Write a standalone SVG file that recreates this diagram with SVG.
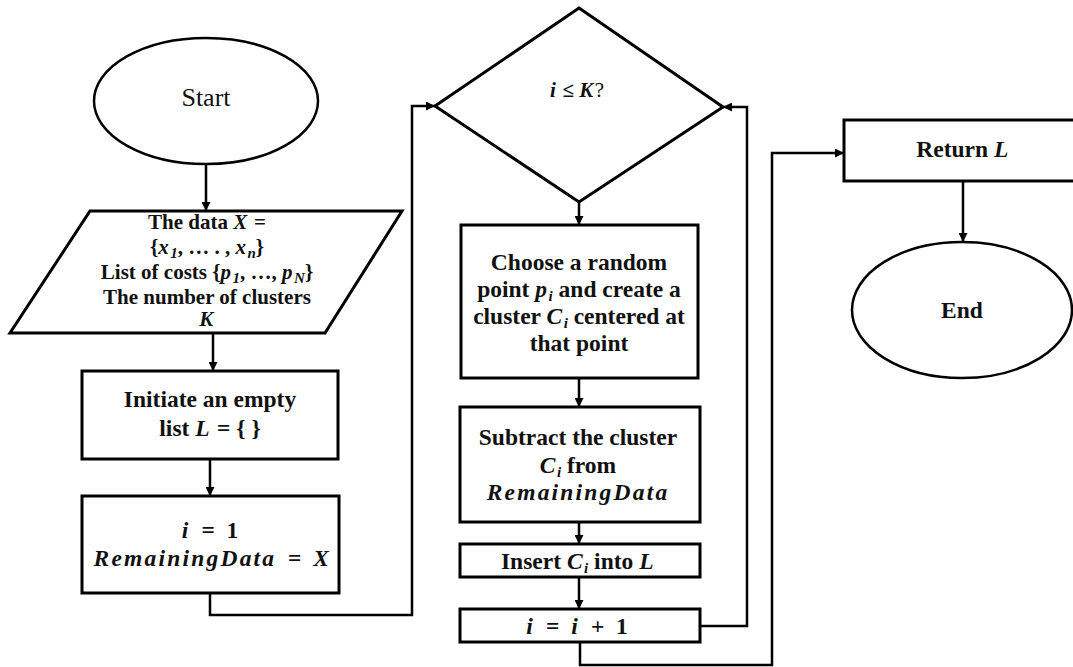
<svg xmlns="http://www.w3.org/2000/svg" width="1073" height="667" viewBox="0 0 1073 667">
<defs>
<style>
.shape{fill:#fff;stroke:#000;stroke-width:3}
.oval{fill:#fff;stroke:#000;stroke-width:2.5}
.con{fill:none;stroke:#000;stroke-width:2.5;marker-end:url(#ah)}
text{font-family:"Liberation Serif","Times New Roman",serif;font-size:23.5px;font-weight:bold;fill:#111;text-anchor:middle}
.sm{font-size:21px}
.reg{font-weight:normal}
.m{font-style:italic;letter-spacing:1.5px}
.sub{font-size:15px;font-style:italic}
</style>
<marker id="ah" viewBox="0 0 10 10" refX="10" refY="5" markerWidth="9" markerHeight="9" markerUnits="userSpaceOnUse" orient="auto">
<path d="M0,0 L10,5 L0,10 z" fill="#000"/>
</marker>
</defs>
<rect width="1073" height="667" fill="#fff"/>
<g id="connectors">
<path class="con" d="M206,165 V211"/>
<path class="con" d="M213,333 V371"/>
<path class="con" d="M210,459 V496"/>
<path class="con" d="M210,593 V615 H412 V106 H435"/>
<path class="con" d="M579,202 V225"/>
<path class="con" d="M579,378 V407"/>
<path class="con" d="M579,522 V544"/>
<path class="con" d="M579,577 V609"/>
<path class="con" d="M700,626 H747 V107 H723"/>
<path class="con" d="M580,642 V665 H772 V153 H844"/>
<path class="con" d="M963,181 V242"/>
</g>
<g id="start">
<ellipse class="oval" cx="206" cy="101" rx="112" ry="63"/>
<text x="206" y="106" class="reg" style="font-size:26px">Start</text>
</g>
<g id="input">
<polygon class="shape" points="90,211 402,211 325,333 10,333"/>
<text class="sm" x="207" y="229">The data <tspan class="m">X</tspan> =</text>
<text class="sm" x="207" y="254">{<tspan class="m">x</tspan><tspan class="sub" dy="4">1</tspan><tspan dy="-4">, … . ,</tspan> <tspan class="m">x</tspan><tspan class="sub" dy="4">n</tspan><tspan dy="-4">}</tspan></text>
<text class="sm" x="207" y="279">List of costs {<tspan class="m">p</tspan><tspan class="sub" dy="4">1</tspan><tspan dy="-4">, …, </tspan><tspan class="m">p</tspan><tspan class="sub" dy="4">N</tspan><tspan dy="-4">}</tspan></text>
<text class="sm" x="207" y="304">The number of clusters</text>
<text class="sm m" x="207" y="326">K</text>
</g>
<g id="init">
<rect class="shape" x="82" y="371" width="256" height="88"/>
<text x="210" y="407">Initiate an empty</text>
<text x="210" y="436">list <tspan class="m">L</tspan>&#160;=&#160;{ }</text>
</g>
<g id="setup">
<rect class="shape" x="82" y="496" width="257" height="97"/>
<text x="210" y="538"><tspan class="m">i</tspan>&#160;&#160;=&#160;&#160;1</text>
<text x="212" y="566"><tspan class="m" style="letter-spacing:2.2px">RemainingData</tspan>&#160;&#160;=&#160;&#160;<tspan class="m">X</tspan></text>
</g>
<g id="decision">
<polygon class="shape" points="579,8 723,107 579,202 435,106"/>
<text class="sm" x="577" y="97"><tspan class="m">i</tspan>&#160;≤&#160;<tspan class="m">K</tspan><tspan class="reg">?</tspan></text>
</g>
<g id="choose">
<rect class="shape" x="461" y="225" width="237" height="153"/>
<text x="579" y="270">Choose a random</text>
<text x="579" y="297">point <tspan class="m">p</tspan><tspan class="sub" dy="4">i</tspan><tspan dy="-4"> and create a</tspan></text>
<text x="579" y="324">cluster <tspan class="m">C</tspan><tspan class="sub" dy="4">i</tspan><tspan dy="-4"> centered at</tspan></text>
<text x="579" y="351">that point</text>
</g>
<g id="subtract">
<rect class="shape" x="460" y="407" width="240" height="115"/>
<text x="578" y="445">Subtract the cluster</text>
<text x="578" y="473"><tspan class="m">C</tspan><tspan class="sub" dy="4">i</tspan><tspan dy="-4"> from</tspan></text>
<text x="578" y="500" class="m" style="letter-spacing:2.2px">RemainingData</text>
</g>
<g id="insert">
<rect class="shape" x="460" y="544" width="240" height="33"/>
<text x="578" y="569">Insert <tspan class="m">C</tspan><tspan class="sub" dy="4">i</tspan><tspan dy="-4"> into </tspan><tspan class="m">L</tspan></text>
</g>
<g id="increment">
<rect class="shape" x="460" y="609" width="240" height="33"/>
<text x="577" y="634"><tspan class="m">i</tspan>&#160;&#160;=&#160;&#160;<tspan class="m">i</tspan>&#160;&#160;+&#160;&#160;1</text>
</g>
<g id="return">
<rect class="shape" x="844" y="120" width="240" height="61"/>
<text x="963" y="157">Return <tspan class="m">L</tspan></text>
</g>
<g id="end">
<ellipse class="oval" cx="962" cy="310" rx="110" ry="68"/>
<text x="962" y="318">End</text>
</g>
</svg>
